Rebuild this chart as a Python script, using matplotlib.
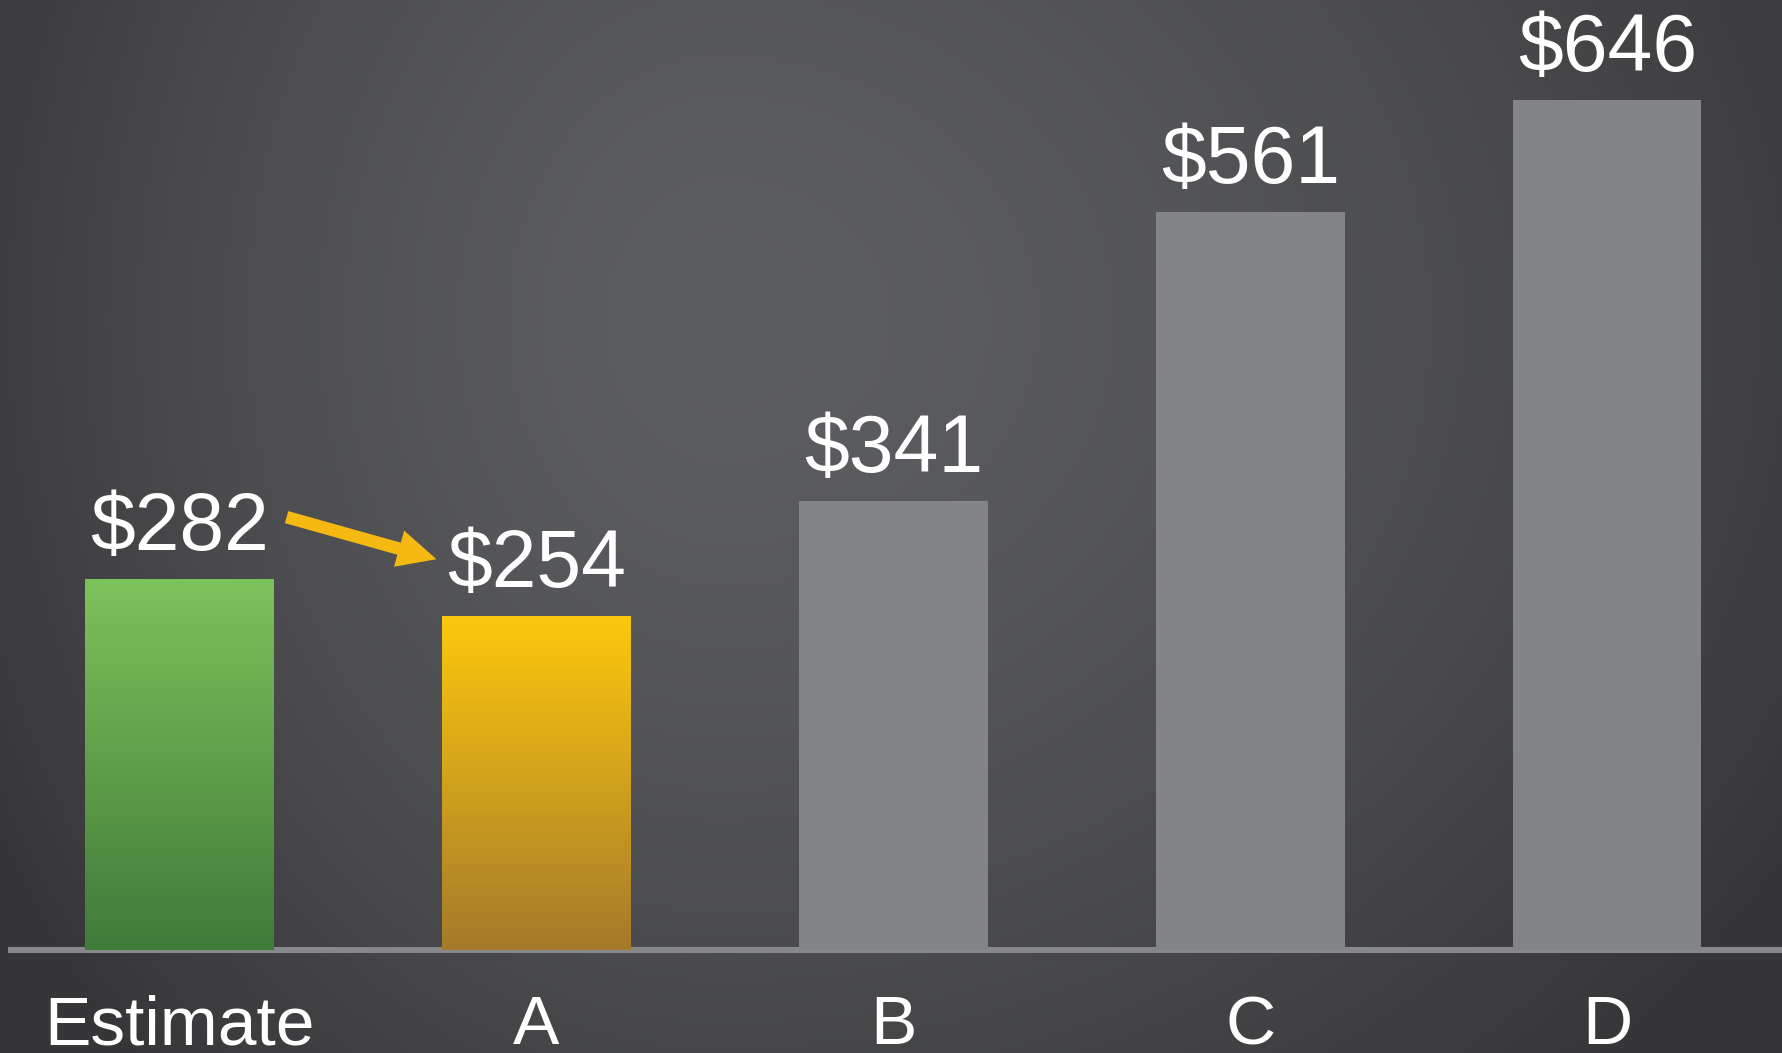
import numpy as np
import matplotlib
matplotlib.use("Agg")
import matplotlib.pyplot as plt
from matplotlib.colors import LinearSegmentedColormap

# ---- data ----
categories = ["Estimate", "A", "B", "C", "D"]
values = [282, 254, 341, 561, 646]
value_labels = ["$282", "$254", "$341", "$561", "$646"]

plt.rcParams['font.family'] = ['Liberation Sans', 'DejaVu Sans']

W, H = 1782, 1053
fig = plt.figure(figsize=(W / 100, H / 100), dpi=100)

# ---- radial gradient background ----
bg = fig.add_axes([0, 0, 1, 1], zorder=-10)
yy, xx = np.mgrid[0:H, 0:W]
cx, cy = 720, 320
dx = xx - cx
dx = np.where(dx < 0, dx / 0.8, dx / 1.2)
dy = yy - cy
r = np.sqrt(dx ** 2 + dy ** 2)
t = np.clip(r / 1050.0, 0, 1) ** 1.5
c0 = np.array([0x5d, 0x5e, 0x61]) / 255
c1 = np.array([0x36, 0x36, 0x38]) / 255
img = c0[None, None, :] * (1 - t[..., None]) + c1[None, None, :] * t[..., None]
bg.imshow(img, aspect='auto', extent=[0, W, H, 0])
bg.set_xlim(0, W)
bg.set_ylim(H, 0)
bg.axis('off')

# ---- main axes ----
left_px, base_px = 11, 950
ax = fig.add_axes([left_px / W, (H - base_px) / H, 1 - left_px / W, base_px / H])
ax.patch.set_alpha(0)
x = np.arange(len(categories))
width = 0.527

colors = ["#5fa04a", "#e6b21e", "#838488", "#838488", "#838488"]
bars = ax.bar(x, values, width=width, color=colors, zorder=3, linewidth=0)

grad_specs = {
    0: ("#7dc35b", "#3f7b39"),
    1: ("#fdc90d", "#a47a2b"),
}
for i, (ctop, cbot) in grad_specs.items():
    b = bars[i]
    cmap = LinearSegmentedColormap.from_list("g%d" % i, [cbot, ctop])
    grad = np.linspace(0, 1, 256).reshape(-1, 1)
    im = ax.imshow(grad, cmap=cmap, aspect='auto', origin='lower',
                   extent=[b.get_x(), b.get_x() + b.get_width(), 0, b.get_height()],
                   zorder=4)
    im.set_clip_path(b)
ax.set_xlim(-0.472, 4.489)
ax.set_ylim(0, 722)

# baseline
ax.axhline(0, color="#87888c", linewidth=6 * 72 / 100, zorder=2, clip_on=False)

for s in ax.spines.values():
    s.set_visible(False)
ax.set_xticks([])
ax.set_yticks([])

# value labels
for xi, v, lab in zip(x, values, value_labels):
    ax.annotate(lab, xy=(xi, v), xytext=(0, 21), textcoords='offset points',
                ha='center', va='baseline', color='white', fontsize=58, zorder=5)

# category labels
for xi, lab in zip(x, categories):
    ax.annotate(lab, xy=(xi, 0), xytext=(0, -68), textcoords='offset points',
                ha='center', va='baseline', color='white', fontsize=50,
                annotation_clip=False)

# arrow from estimate to A
ax.annotate("", xy=(x[1] - 0.28, values[1] + 43), xytext=(x[0] + 0.30, values[0] + 47),
            arrowprops=dict(arrowstyle="simple,head_length=2.8,head_width=2.7,tail_width=0.9",
                            mutation_scale=10, color="#f6b912", lw=0,
                            shrinkA=0, shrinkB=0),
            zorder=6)

fig.savefig("out.png", dpi=100)
